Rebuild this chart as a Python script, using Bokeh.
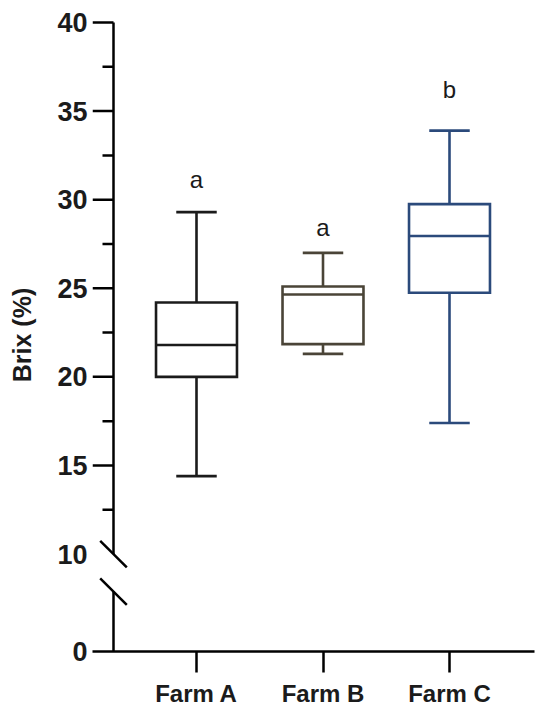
from bokeh.plotting import figure
from bokeh.models import FixedTicker, LinearAxis, Range1d, ColumnDataSource
from bokeh.core.properties import value
from bokeh.embed import file_html
from bokeh.resources import INLINE

# ---- data ----
farms = ["Farm A", "Farm B", "Farm C"]
xpos = [1, 2, 3]
whisker_low = [14.4, 21.3, 17.4]
q1 = [20.0, 21.85, 24.75]
median = [21.8, 24.65, 27.95]
q3 = [24.2, 25.1, 29.75]
whisker_high = [29.3, 27.0, 33.9]
letters = ["a", "a", "b"]
letter_y = [31.15, 28.45, 36.2]
colors = ["#1b1b1b", "#4a4437", "#2b4a7b"]

y_ticks = [10, 15, 20, 25, 30, 35, 40]
y_minor = [12.5, 17.5, 22.5, 27.5, 32.5, 37.5]

# ---- layout constants (broken axis: lower segment drawn compressed) ----
Y_BOTTOM = 4.5      # plot coordinate where the "0" of the lower segment sits
Y_AX_TOP = 40
PX_Y = 630 / (Y_AX_TOP - Y_BOTTOM)   # pixels per y unit
PX_X = 126.5                          # pixels per x unit
X_LEFT = 1 - 104 / PX_X
X_RIGHT = 3 + 85 / PX_X
AXIS_X = 1 - 83 / PX_X
Y_TOP = Y_AX_TOP + 4 / PX_Y
BREAK_LOW = Y_BOTTOM + 60 / PX_Y     # where lower axis segment ends

FONT = "Liberation Sans"

p = figure(width=542, height=709, output_backend="svg", toolbar_location=None,
           x_range=Range1d(X_LEFT, X_RIGHT), y_range=Range1d(Y_BOTTOM, Y_TOP),
           min_border_left=92, min_border_right=8, min_border_top=18, min_border_bottom=57,
           x_axis_type=None, y_axis_type=None)
p.outline_line_color = None
p.grid.visible = False
p.background_fill_color = "white"
p.border_fill_color = "white"

# y axis (labels only); line and ticks are drawn as glyphs to show the break
yax = LinearAxis(ticker=FixedTicker(ticks=[Y_BOTTOM] + y_ticks, minor_ticks=[]))
yax.major_label_overrides = {Y_BOTTOM: "0"}
yax.axis_line_color = None
yax.major_tick_line_color = None
yax.minor_tick_line_color = None
yax.major_tick_out = 0
yax.major_tick_in = 0
yax.major_label_standoff = 5
yax.major_label_text_font = FONT
yax.major_label_text_font_style = "bold"
yax.major_label_text_font_size = "27px"
yax.major_label_text_color = "#1b1b1b"
yax.axis_label = "Brix (%)"
yax.axis_label_text_font = FONT
yax.axis_label_text_font_style = "bold"
yax.axis_label_text_font_size = "25px"
yax.axis_label_text_color = "#1b1b1b"
yax.axis_label_standoff = 18
p.add_layout(yax, "left")

xax = LinearAxis(ticker=FixedTicker(ticks=xpos))
xax.major_label_overrides = {x: f for x, f in zip(xpos, farms)}
xax.axis_line_width = 2.5
xax.axis_line_color = "black"
xax.major_tick_out = 21
xax.major_tick_in = 0
xax.minor_tick_line_color = None
xax.major_tick_line_width = 2.5
xax.major_tick_line_color = "black"
xax.major_label_standoff = 7
xax.major_label_text_font = FONT
xax.major_label_text_font_style = "bold"
xax.major_label_text_font_size = "24px"
xax.major_label_text_color = "#1b1b1b"
p.add_layout(xax, "below")

# y axis line segments (upper 10-40, lower stub down to 0)
p.segment(x0=[AXIS_X, AXIS_X], y0=[10, BREAK_LOW], x1=[AXIS_X, AXIS_X], y1=[Y_AX_TOP, Y_BOTTOM],
          line_color="black", line_width=2.5)
# major ticks (none at 10, where the break mark sits)
maj = [t for t in y_ticks if t != 10]
p.segment(x0=[X_LEFT] * len(maj), y0=maj, x1=[AXIS_X] * len(maj), y1=maj,
          line_color="black", line_width=2.5)
# minor ticks
p.segment(x0=[AXIS_X - 11 / PX_X] * len(y_minor), y0=y_minor, x1=[AXIS_X] * len(y_minor), y1=y_minor,
          line_color="black", line_width=2.5)
# break marks
dx = 13.3 / PX_X
dy = 13.3 / PX_Y
p.segment(x0=[AXIS_X - dx, AXIS_X - dx], y0=[10 + dy, BREAK_LOW + dy],
          x1=[AXIS_X + dx, AXIS_X + dx], y1=[10 - dy, BREAK_LOW - dy],
          line_color="black", line_width=2.5)

# box plots
src = ColumnDataSource(dict(x=xpos, lo=whisker_low, q1=q1, med=median, q3=q3, hi=whisker_high,
                            color=colors, letter=letters, ly=letter_y))
BOX_W = 0.64
CAP_W = 0.32
LW = 2.6
p.vbar(x="x", bottom="q1", top="q3", width=BOX_W, fill_color=None, line_color="color",
       line_width=LW, line_join="miter", source=src)
for i, x in enumerate(xpos):
    c = colors[i]
    p.segment(x0=[x - BOX_W / 2], y0=[median[i]], x1=[x + BOX_W / 2], y1=[median[i]],
              line_color=c, line_width=LW)
    p.segment(x0=[x, x], y0=[q3[i], q1[i]], x1=[x, x], y1=[whisker_high[i], whisker_low[i]],
              line_color=c, line_width=LW)
    p.segment(x0=[x - CAP_W / 2, x - CAP_W / 2], y0=[whisker_high[i], whisker_low[i]],
              x1=[x + CAP_W / 2, x + CAP_W / 2], y1=[whisker_high[i], whisker_low[i]],
              line_color=c, line_width=LW)

p.text(x="x", y="ly", text="letter", source=src, text_align="center",
       text_baseline="alphabetic", text_font=value(FONT), text_font_size="24px",
       text_color="#1b1b1b")

open("out.html", "w").write(file_html(p, INLINE))
